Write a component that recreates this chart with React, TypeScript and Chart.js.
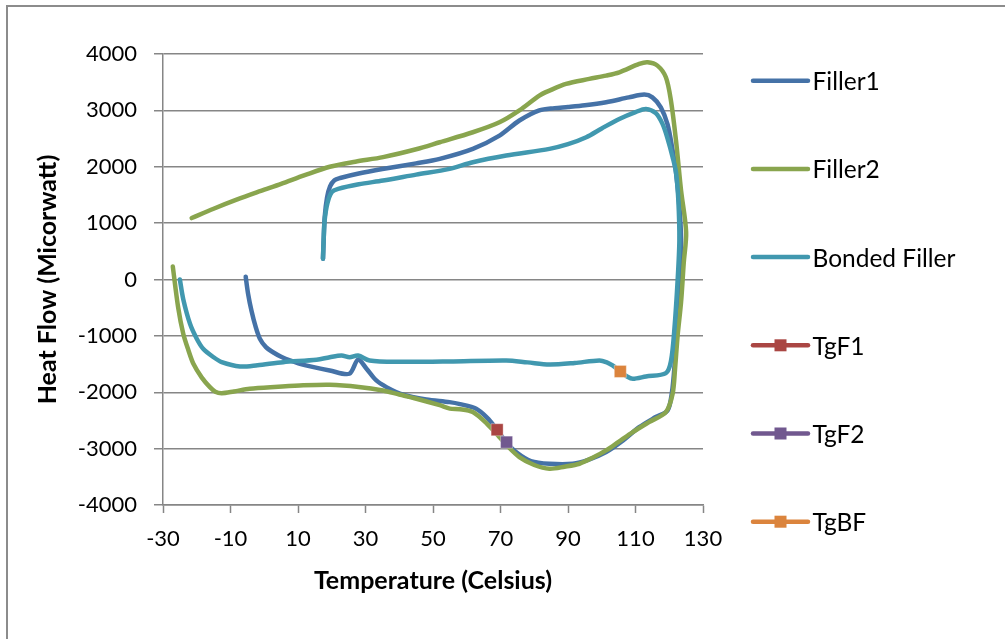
import React, { useEffect, useRef } from "react";
import { Chart, registerables } from "chart.js";

Chart.register(...registerables);

// ---- Data ----
const seriesNames = ["Filler1", "Filler2", "Bonded Filler", "TgF1", "TgF2", "TgBF"];
const seriesColors = ["#4572A7", "#89A54E", "#4198AF", "#AA4643", "#71588F", "#DB843D"];

const filler1T = [-5.5, -4.8, -3.8, -2.5, -1.3, 0.5, 2.6, 5, 7.6, 12, 19.4, 25.2, 27.8, 30.3, 33.2, 36.2, 41.1, 48, 54.9, 58, 62.8, 66, 69, 71.7, 75, 79, 84.5, 91.4, 96, 101.3, 106, 111.1, 116, 119.5, 120.8, 121.6, 122.5, 123.2, 123.5, 123, 122, 121, 119.5, 117.5, 115, 112.6, 108, 101.3, 95, 90, 86, 81.5, 75.6, 69.7, 61.8, 52, 45, 35, 28, 22.5, 20.8, 19.5, 18.6, 17.9, 17.6, 17.4];
const filler1H = [50, -250, -550, -850, -1050, -1200, -1290, -1370, -1436, -1520, -1613, -1672, -1420, -1583, -1791, -1909, -2044, -2128, -2175, -2210, -2293, -2450, -2665, -2885, -3080, -3220, -3268, -3268, -3200, -3062, -2870, -2619, -2440, -2323, -2000, -1500, -700, 0, 700, 1300, 1900, 2290, 2750, 3055, 3230, 3280, 3230, 3145, 3090, 3060, 3040, 3000, 2820, 2553, 2317, 2140, 2060, 1960, 1880, 1800, 1760, 1650, 1450, 1100, 700, 370];

const filler2T = [-21.5, -15, -8, -1, 5, 12, 19.4, 27, 35.2, 45, 52, 61.8, 69.7, 75.6, 81.5, 84.5, 89.4, 96.3, 101.3, 105.2, 111.1, 113.6, 116.5, 119, 120.5, 122, 123.5, 125, 124.3, 123.5, 122.5, 121.7, 121, 119, 114, 109.2, 105, 101.3, 97, 93.4, 89, 84.5, 80, 75.6, 72, 69.7, 66, 61.8, 58, 55, 52, 45.1, 40, 35.2, 28, 19.4, 10.5, 3, -4.3, -9, -12.6, -14.5, -16.1, -18.5, -21, -22.5, -24, -25.5, -27.1];
const filler2H = [1090, 1255, 1420, 1570, 1695, 1850, 2000, 2090, 2170, 2310, 2435, 2612, 2789, 3000, 3262, 3350, 3470, 3558, 3617, 3676, 3824, 3853, 3794, 3587, 3174, 2465, 1578, 840, 300, -400, -980, -1600, -2027, -2352, -2530, -2707, -2880, -3032, -3170, -3268, -3320, -3357, -3290, -3150, -2950, -2796, -2560, -2352, -2300, -2290, -2230, -2115, -2040, -1968, -1905, -1868, -1880, -1905, -1938, -1985, -2016, -1990, -1909, -1740, -1495, -1250, -963, -500, 230];

const bondedT = [-25, -24, -22, -20, -18.1, -15, -12.6, -7.2, -2, 5.6, 15.5, 19.4, 22.9, 25.3, 27.8, 31.2, 40, 54.9, 71.7, 78, 84.5, 92, 99.3, 101.5, 103.2, 105.5, 107.5, 109.2, 113.1, 119, 120.5, 121.5, 122.5, 123, 122.7, 122, 121, 119.5, 118, 116, 113.1, 110, 105.2, 100, 95.4, 90, 84.5, 71.7, 61.8, 54.9, 45, 35.2, 28, 21.9, 20, 18.7, 17.9, 17.6, 17.4];
const bondedH = [0, -350, -786, -1050, -1229, -1380, -1466, -1543, -1520, -1466, -1424, -1378, -1348, -1378, -1348, -1436, -1460, -1454, -1436, -1470, -1507, -1480, -1436, -1470, -1525, -1631, -1720, -1761, -1720, -1661, -1450, -900, 0, 700, 1400, 1900, 2170, 2500, 2760, 2950, 3026, 2970, 2848, 2680, 2523, 2400, 2317, 2199, 2080, 1962, 1860, 1755, 1690, 1608, 1550, 1350, 1050, 700, 370];

const tgF1T = [69];
const tgF1H = [-2665];
const tgF2T = [71.8];
const tgF2H = [-2885];
const tgBFT = [105.5];
const tgBFH = [-1631];

const xMin = -30, xMax = 130, xStep = 20;
const yMin = -4000, yMax = 4000, yStep = 1000;
const xTitle = "Temperature (Celsius)";
const yTitle = "Heat Flow (Micorwatt)";

const toPts = (t: number[], h: number[]) => t.map((x, i) => ({ x, y: h[i] }));

const FONT = "Lato, 'Open Sans', 'Liberation Sans', sans-serif";
const GRID = "#868686";

const legendPlugin = {
  id: "sideLegend",
  afterDraw(chart: any) {
    const ctx = chart.ctx;
    const ds = chart.data.datasets;
    ctx.save();
    ds.forEach((d: any, i: number) => {
      const y = 80.7 + i * 88.2;
      const x0 = 753, x1 = 808;
      ctx.strokeStyle = d.borderColor;
      ctx.lineWidth = 4.5;
      ctx.lineCap = "round";
      ctx.beginPath();
      ctx.moveTo(x0, y);
      ctx.lineTo(x1, y);
      ctx.stroke();
      if (d.isMarker) {
        ctx.fillStyle = d.backgroundColor;
        ctx.fillRect((x0 + x1) / 2 - 6, y - 6, 12, 12);
      }
      ctx.fillStyle = "#000";
      ctx.font = `24.5px ${FONT}`;
      ctx.textBaseline = "middle";
      ctx.textAlign = "left";
      ctx.fillText(d.label, 812.5, y + 1.5);
    });
    ctx.restore();
  },
};

export default function App() {
  const ref = useRef<HTMLCanvasElement | null>(null);

  useEffect(() => {
    if (!ref.current) return;
    const lineDs = (i: number, t: number[], h: number[]) => ({
      label: seriesNames[i],
      data: toPts(t, h),
      showLine: true,
      borderColor: seriesColors[i],
      backgroundColor: seriesColors[i],
      borderWidth: 4.5,
      pointRadius: 0,
      pointHoverRadius: 0,
      tension: 0.3,
      borderCapStyle: "round",
      borderJoinStyle: "round",
      fill: false,
      order: 10 - i,
    });
    const markDs = (i: number, t: number[], h: number[]) => ({
      label: seriesNames[i],
      data: toPts(t, h),
      showLine: false,
      isMarker: true,
      borderColor: seriesColors[i],
      backgroundColor: seriesColors[i],
      pointStyle: "rect",
      pointRadius: 8.5,
      pointBorderWidth: 1,
      pointBorderColor: "rgba(255,255,255,0.35)",
      order: 10 - i,
    });

    const chart = new Chart(ref.current, {
      type: "scatter",
      data: {
        datasets: [
          lineDs(0, filler1T, filler1H),
          lineDs(1, filler2T, filler2H),
          lineDs(2, bondedT, bondedH),
          markDs(3, tgF1T, tgF1H),
          markDs(4, tgF2T, tgF2H),
          markDs(5, tgBFT, tgBFH),
        ] as any,
      },
      options: {
        animation: false,
        responsive: true,
        maintainAspectRatio: false,
        events: [],
        layout: { padding: { left: 20, right: 302, top: 54, bottom: 34 } },
        plugins: {
          legend: { display: false },
          tooltip: { enabled: false },
        },
        scales: {
          x: {
            type: "linear",
            min: xMin,
            max: xMax,
            afterFit: (s: any) => { s.height = 100; },
            ticks: { stepSize: xStep, color: "#000", font: { family: FONT, size: 22 }, padding: 13, maxRotation: 0, callback: (v: any) => String(v) },
            grid: { drawOnChartArea: false, drawTicks: true, tickLength: 8, tickColor: GRID, tickWidth: 1.5 },
            border: { color: GRID, width: 1.5 },
            title: { display: true, text: xTitle, color: "#000", font: { family: FONT, size: 25, weight: "bold" }, padding: { top: 0, bottom: 9 } },
          },
          y: {
            type: "linear",
            min: yMin,
            max: yMax,
            afterFit: (s: any) => { s.width = 143; },
            ticks: { stepSize: yStep, color: "#000", font: { family: FONT, size: 22 }, padding: 17, callback: (v: any) => String(v) },
            grid: { color: GRID, lineWidth: 1.5, drawTicks: true, tickLength: 9, tickColor: GRID, tickWidth: 1.5 },
            border: { color: GRID, width: 1.5 },
            title: { display: true, text: yTitle, color: "#000", font: { family: FONT, size: 25, weight: "bold" }, padding: { top: 13, bottom: 0 } },
          },
        },
      } as any,
      plugins: [legendPlugin],
    });
    return () => chart.destroy();
  }, []);

  return (
    <div style={{ position: "fixed", left: 0, top: 0, width: 1005, height: 639, overflow: "hidden", background: "#fff" }}>
      <div style={{ position: "absolute", left: 6, top: 5, width: 1.5, height: 634, background: "#8c8c8c" }} />
      <div style={{ position: "absolute", left: 6, top: 5, width: 999, height: 1.5, background: "#8c8c8c" }} />
      <div style={{ position: "absolute", left: 0, top: 0, width: 1005, height: 639 }}>
        <canvas ref={ref} />
      </div>
    </div>
  );
}
